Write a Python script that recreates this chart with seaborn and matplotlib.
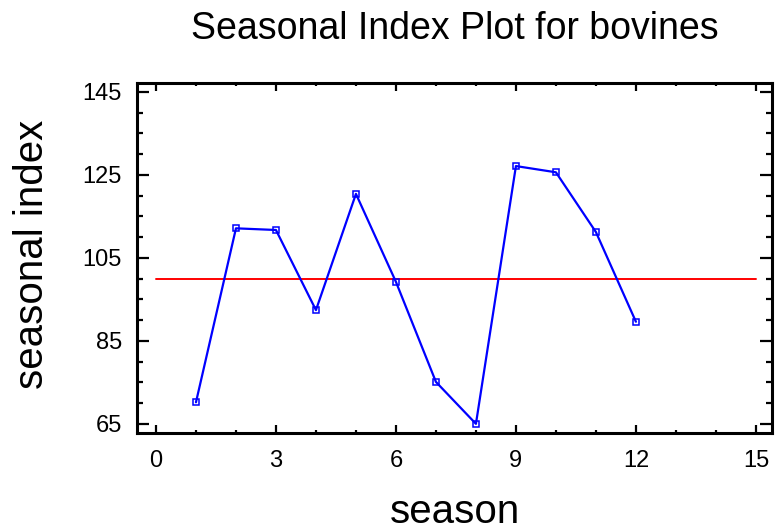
import matplotlib
matplotlib.use("Agg")
import matplotlib.pyplot as plt
from matplotlib.ticker import MultipleLocator
import seaborn as sns
import pandas as pd

season = [1, 2, 3, 4, 5, 6, 7, 8, 9, 10, 11, 12]
seasonal_index = [70.2, 112.1, 111.7, 92.4, 120.4, 99.2, 75.1, 65.0, 127.1, 125.6, 111.2, 89.6]
baseline_x = [0, 15]
baseline_y = [100, 100]

sns.set_theme(style="ticks")
plt.rcParams["font.family"] = ["Liberation Sans", "DejaVu Sans"]
plt.rcParams["text.color"] = "black"
plt.rcParams["axes.labelcolor"] = "black"

df = pd.DataFrame({"season": season, "index": seasonal_index})
base = pd.DataFrame({"season": baseline_x, "index": baseline_y})

fig = plt.figure(figsize=(7.75, 5.31), dpi=100)
ax = fig.add_axes([0.177, 0.1846, 0.819, 0.659])

sns.lineplot(data=base, x="season", y="index", color="#ff0000", linewidth=1.4, ax=ax)
sns.lineplot(data=df, x="season", y="index", color="#0000ff", linewidth=1.6,
             marker="s", markersize=4.5, markerfacecolor="none",
             markeredgecolor="#0000ff", markeredgewidth=1.1, ax=ax)

ax.set_xlim(-0.47, 15.4)
ax.set_ylim(62.8, 147.1)
ax.xaxis.set_major_locator(MultipleLocator(3))
ax.xaxis.set_minor_locator(MultipleLocator(1))
ax.set_yticks([65, 85, 105, 125, 145])
ax.yaxis.set_minor_locator(MultipleLocator(5))

ax.tick_params(which="both", direction="in", top=True, right=True,
               colors="black", width=1.6, labelsize=17)
ax.tick_params(axis="y", which="major", length=8.5, pad=11)
ax.tick_params(axis="y", which="minor", length=4.3)
ax.tick_params(axis="x", which="major", length=5.5, pad=12.5)
ax.tick_params(axis="x", which="minor", length=2.5)
for s in ax.spines.values():
    s.set_linewidth(2.2)
    s.set_color("black")

ax.set_xlabel("season", fontsize=29, color="black")
ax.xaxis.label.set_va("baseline")
ax.xaxis.set_label_coords(0.5, -0.257)
ax.set_ylabel("seasonal index", fontsize=29, color="black")
ax.yaxis.label.set_va("baseline")
ax.yaxis.set_label_coords(-0.148, 0.51)
ax.set_title("Seasonal Index Plot for bovines", fontsize=27, pad=31.7, color="black")

fig.savefig("out.png", dpi=100)
